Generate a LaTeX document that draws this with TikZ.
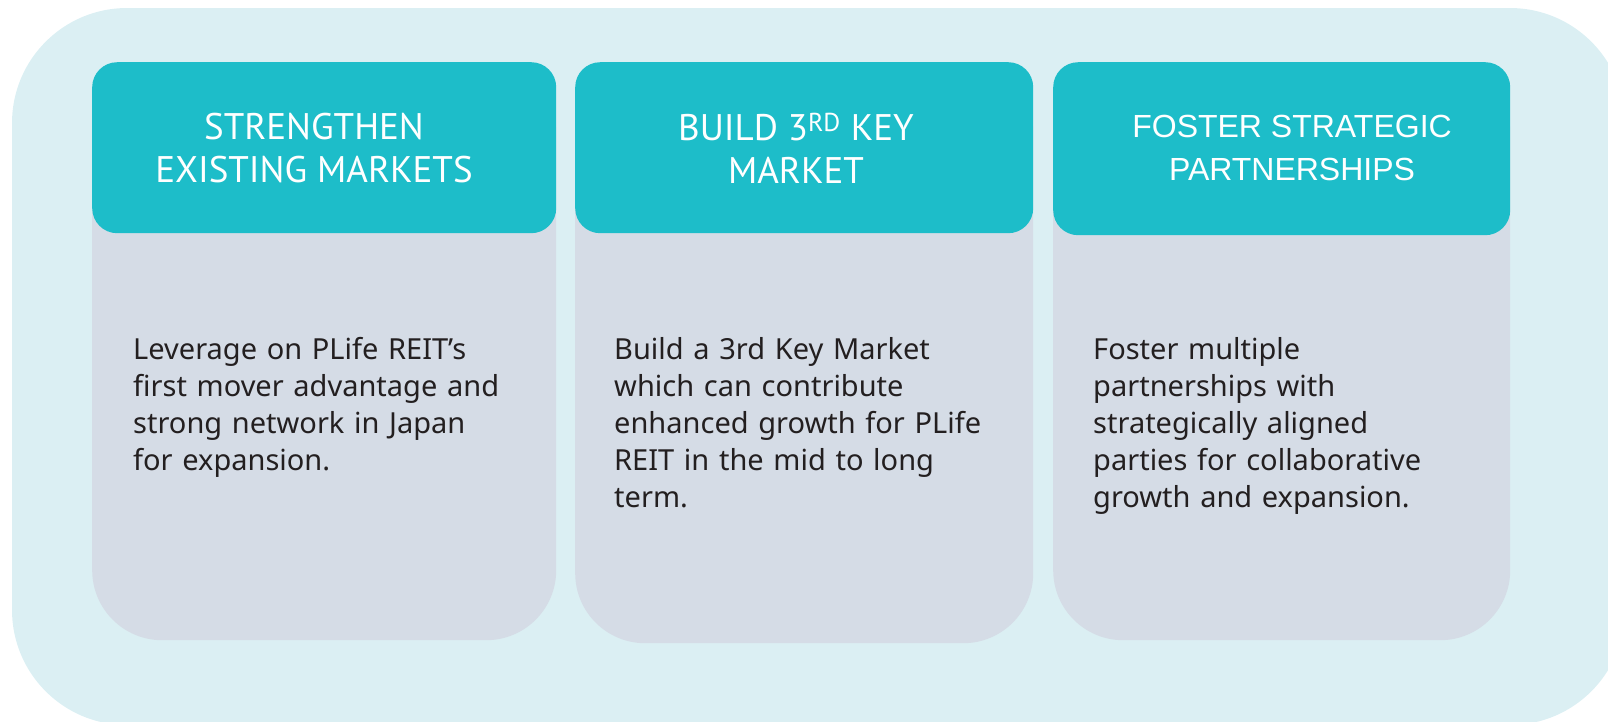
\documentclass[tikz,border=0pt]{standalone}
\usepackage{fontspec}
\setmainfont{Noto Sans}
\newfontfamily\headfont{PT Sans}
\newfontfamily\headfontwide{Liberation Sans}
\definecolor{bgblue}{HTML}{DBEFF3}
\definecolor{headteal}{HTML}{1DBDC9}
\definecolor{bodygrey}{HTML}{D5DCE6}
\definecolor{inktext}{HTML}{231F20}

\begin{document}
\begin{tikzpicture}[x=1pt, y=-1pt,
	head/.style={fill=headteal, rounded corners=25pt, anchor=north west, minimum height=171pt},
	body/.style={fill=bodygrey, rounded corners=70pt, anchor=north west},
	title/.style={text=white, align=center, font=\headfont\fontsize{37}{43}\selectfont},
	txt/.style={text=inktext, anchor=base west, inner sep=0pt, text width=420pt, align=left, font=\fontsize{29}{37}\selectfont}]
	\useasboundingbox (0,0) rectangle (1608,721);
	\fill[bgblue, rounded corners=115pt] (12,8) rectangle (1625,725);
	\node[body, minimum width=464pt, minimum height=578pt] (body1) at (92,62) {};
	\node[body, minimum width=458pt, minimum height=581pt] (body2) at (575,62) {};
	\node[body, minimum width=457pt, minimum height=578pt] (body3) at (1053,62) {};
	\node[head, minimum width=464pt] (head1) at (92,62) {};
	\node[head, minimum width=458pt] (head2) at (575,62) {};
	\node[head, minimum width=457pt, minimum height=173pt] (head3) at (1053,62) {};
	\node[title] (title1) at (314,148) {STRENGTHEN\\EXISTING MARKETS};
	\node[title] (title2) at (796,148) {BUILD 3\textsuperscript{RD} KEY\\MARKET};
	\node[title, font=\headfontwide\fontsize{32}{43}\selectfont] (title3) at (1292,148) {FOSTER STRATEGIC\\PARTNERSHIPS};
	\node[txt] (text1) at (133,359) {Leverage on PLife REIT’s\\first mover advantage and\\strong network in Japan\\for expansion.};
	\node[txt] (text2) at (614,359) {Build a 3rd Key Market\\which can contribute\\enhanced growth for PLife\\REIT in the mid to long\\term.};
	\node[txt] (text3) at (1093,359) {Foster multiple\\partnerships with\\strategically aligned\\parties for collaborative\\growth and expansion.};
\end{tikzpicture}
\end{document}
